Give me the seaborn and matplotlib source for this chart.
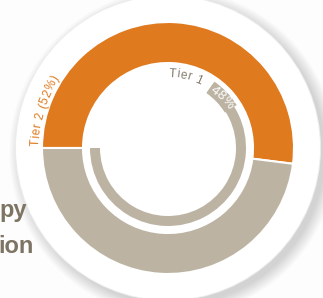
import matplotlib
matplotlib.use('Agg')
import matplotlib.pyplot as plt
from matplotlib.patches import Circle
from matplotlib.textpath import TextToPath
from matplotlib.font_manager import FontProperties
import seaborn as sns
import numpy as np

# data
tiers = ['Tier 2', 'Tier 1']
tier_share = [52, 48]
tier1_arc_deg = 235          # sweep of the thin inner arc (degrees)
title_tail = ['py', 'ion']   # what is visible of the cut-off title

sns.set_theme(style='white')
plt.rcParams['font.family'] = ['Liberation Sans', 'DejaVu Sans']

orange = '#E07A1E'
beige = '#BCB3A3'
text_grey = '#857C6E'
title_grey = '#7E7464'

fig = plt.figure(figsize=(3.23, 2.98), dpi=100)
fig.patch.set_facecolor('#FDFDFD')
ax = fig.add_axes([0, 0, 1, 1])

cx, cy = 168, 150
ttp = TextToPath()


def arc_text(s, r, mid_deg, fs, color, track=0.0):
    # place characters one by one along a clockwise arc
    prop = FontProperties(family='Liberation Sans', size=fs * 100 / 72)
    cum = [ttp.get_text_width_height_descent(s[:i + 1], prop, ismath=False)[0] + track * i
           for i in range(len(s))]
    widths = np.diff([0] + cum)
    total = cum[-1]
    start = np.deg2rad(mid_deg) + total / 2 / r
    for ch, c, w in zip(s, cum, widths):
        a = start - (c - w / 2) / r
        ax.text(cx + r * np.cos(a), cy + r * np.sin(a), ch, rotation=np.rad2deg(a) - 90,
                color=color, fontsize=fs, ha='center', va='center',
                rotation_mode='anchor')


# white plate with a soft shadow
for i in range(14):
    ax.add_patch(Circle((cx + 5, cy - 5), 152 + i * 0.9, color='#000000', alpha=0.012, lw=0))
ax.add_patch(Circle((cx, cy), 153, color='#EDEDED', lw=0))
ax.add_patch(Circle((cx, cy), 152, color='white', lw=0))

# outer donut: tier split
ax.pie(tier_share, colors=[orange, beige], startangle=180, counterclock=False,
       radius=126, center=(cx, cy), frame=True,
       wedgeprops=dict(width=41, edgecolor='white', linewidth=1.5))

# thin inner arc for tier 1, with a small tab holding the value
ax.pie([tier1_arc_deg, 360 - tier1_arc_deg], colors=[beige, 'none'],
       startangle=180, counterclock=True, radius=78, center=(cx, cy), frame=True,
       wedgeprops=dict(width=10, linewidth=0))
ax.pie([23, 337], colors=[beige, 'none'], startangle=32, counterclock=True,
       radius=81, center=(cx, cy), frame=True,
       wedgeprops=dict(width=14, linewidth=0))

# labels
arc_text(f'{tiers[0]} ({tier_share[0]}%)', 132, 163, 8.5, orange, track=0.8)
arc_text(tiers[1], 74, 76, 8.5, text_grey, track=0.9)
arc_text(f'{tier_share[1]}%', 74, 43, 9.5, 'white', track=0.5)

# cut-off title on the left
ax.text(-1, 81, title_tail[0], color=title_grey, fontsize=17, fontweight='bold',
        ha='left', va='baseline')
ax.text(-2, 45, title_tail[1], color=title_grey, fontsize=17, fontweight='bold',
        ha='left', va='baseline')

ax.set_xlim(0, 323)
ax.set_ylim(0, 298)
ax.set_aspect('equal')
ax.axis('off')

fig.savefig('out.png', dpi=100)
